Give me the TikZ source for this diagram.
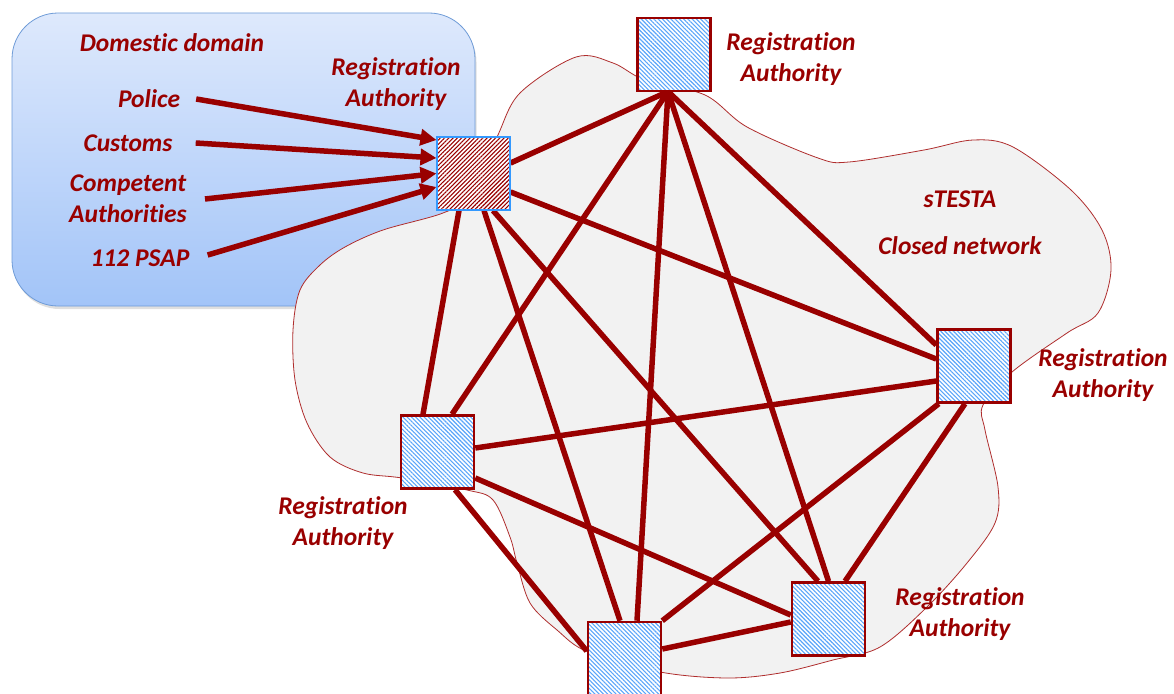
\documentclass[tikz,border=0pt]{standalone}
\usepackage{fontspec}
\setmainfont{Carlito}[Ligatures={NoCommon}]
\usetikzlibrary{arrows.meta,patterns.meta,shadows}
\definecolor{wine}{RGB}{153,0,0}
\definecolor{cloudline}{RGB}{175,45,45}
\definecolor{cloudfill}{RGB}{242,242,242}
\definecolor{hatchblue}{RGB}{90,165,250}
\definecolor{framblue}{RGB}{51,153,255}
\definecolor{boxtop}{RGB}{222,233,252}
\definecolor{boxbottom}{RGB}{162,196,248}
\definecolor{boxline}{RGB}{110,155,215}
\begin{document}
\begin{tikzpicture}[x=1pt,y=-1pt,
  link/.style={draw=wine, line width=5.5pt},
  feed/.style={draw=wine, line width=5.5pt, -{Triangle[length=16pt,width=16pt]}},
  rabox/.style={minimum size=73pt, inner sep=0pt, draw=wine, line width=2.5pt,
    preaction={fill=white},
    pattern={Lines[angle=-45,distance=3pt,line width=1.1pt]}, pattern color=hatchblue},
  homebox/.style={minimum size=73pt, inner sep=0pt, draw=framblue, line width=2.5pt,
    preaction={fill=white},
    pattern={Lines[angle=45,distance=3pt,line width=1.1pt]}, pattern color=wine},
  lbl/.style={text=wine, align=center, inner sep=0pt,
    font=\fontsize{25.5}{31}\selectfont\bfseries\itshape}
]
\useasboundingbox (0,0) rectangle (1174,693);

% domestic domain panel
\draw[boxline, line width=0.8pt, rounded corners=46pt, top color=boxtop, bottom color=boxbottom,
  drop shadow={shadow xshift=1.5pt, shadow yshift=-3pt, opacity=0.25}]
  (12,13) rectangle (475,306);

% sTESTA closed network cloud
\draw[cloudline, line width=0.8pt, fill=cloudfill]
  plot[smooth cycle, tension=0.55] coordinates {
  (497,137) (520,93) (576,57) (613,63) (645,80) (705,95) (747,127) (818,158) (849,162)
  (924,150) (973,140) (1013,147) (1071,190) (1102,230) (1111,270) (1098,313) (1067,333)
  (1012,372) (983,405) (985,430) (998,487) (995,523) (967,563) (927,607) (880,647)
  (833,660) (780,673) (727,678) (660,672) (588,652) (557,630) (530,603) (517,563)
  (510,537) (493,500) (467,490) (402,478) (363,473) (330,457) (307,423) (295,380)
  (293,330) (300,290) (320,265) (345,247) (383,230) (443,213) (470,195)};

% registration authority nodes
\node[homebox] (C)  at (473.5,173.5) {};
\node[rabox]   (T)  at (674,54.5) {};
\node[rabox]   (R)  at (974,366) {};
\node[rabox]   (L)  at (437.5,452) {};
\node[rabox]   (BR) at (828.5,619) {};
\node[rabox]   (B)  at (624.5,658.5) {};

% full mesh between the authorities
\draw[link] ([yshift=10.5]C.east) -- ([xshift=-6]T.south);
\draw[link] ([yshift=-18.5]C.east) -- ([yshift=7]R.west);
\draw[link] ([xshift=-14.5]C.south) -- ([xshift=-14.5]L.north);
\draw[link] ([xshift=10.5]C.south) -- ([xshift=-4.5]B.north);
\draw[link] ([xshift=19.5]C.south) -- ([xshift=-10.5]BR.north);
\draw[link] ([xshift=-6]T.south) -- ([xshift=14.5]L.north);
\draw[link] ([xshift=-6]T.south) -- ([xshift=12.5]B.north);
\draw[link] ([xshift=-6]T.south) -- (BR.north);
\draw[link] ([xshift=-6]T.south) -- ([yshift=21]R.west);
\draw[link] ([yshift=-15]R.west) -- ([yshift=4]L.east);
\draw[link] ([xshift=2.5]R.south west) -- (B.north east);
\draw[link] ([xshift=-9]R.south) -- ([xshift=16.5]BR.north);
\draw[link] ([yshift=-26]L.east) -- ([yshift=4]BR.west);
\draw[link] ([xshift=17.5]L.south) -- ([yshift=7.5]B.west);
\draw[link] ([yshift=9.5]B.east) -- ([yshift=-3]BR.west);

% redraw the nodes above the mesh
\node[homebox] at (C) {};
\node[rabox] at (T) {};
\node[rabox] at (R) {};
\node[rabox] at (L) {};
\node[rabox] at (BR) {};
\node[rabox] at (B) {};

% labels
\node[lbl] (raT)  at (791,59.5)  {Registration\\Authority};
\node[lbl] (raC)  at (396,84.5)  {Registration\\Authority};
\node[lbl] (raR)  at (1103,375.5) {Registration\\Authority};
\node[lbl] (raL)  at (343,523)   {Registration\\Authority};
\node[lbl] (raBR) at (960,614.5) {Registration\\Authority};
\node[lbl] (dom)  at (172,43)    {Domestic domain};
\node[lbl] (stesta) at (960,199) {sTESTA};
\node[lbl] (closed) at (960,246) {Closed network};

\node[lbl] (police)  at (149,99)  {Police};
\node[lbl] (customs) at (128,143) {Customs};
\node[lbl] (comp)    at (128,199) {Competent\\Authorities};
\node[lbl] (psap)    at (140,258) {112 PSAP};

% national bodies feeding the domestic registration authority
\draw[feed] ([xshift=16]police.east) -- ([yshift=33.5]C.west);
\draw[feed] ([xshift=23]customs.east) -- ([yshift=15.5]C.west);
\draw[feed] ([xshift=18]comp.east) -- ([yshift=0]C.west);
\draw[feed] ([xshift=18,yshift=3]psap.east) -- ([yshift=-13.5]C.west);
\end{tikzpicture}
\end{document}
